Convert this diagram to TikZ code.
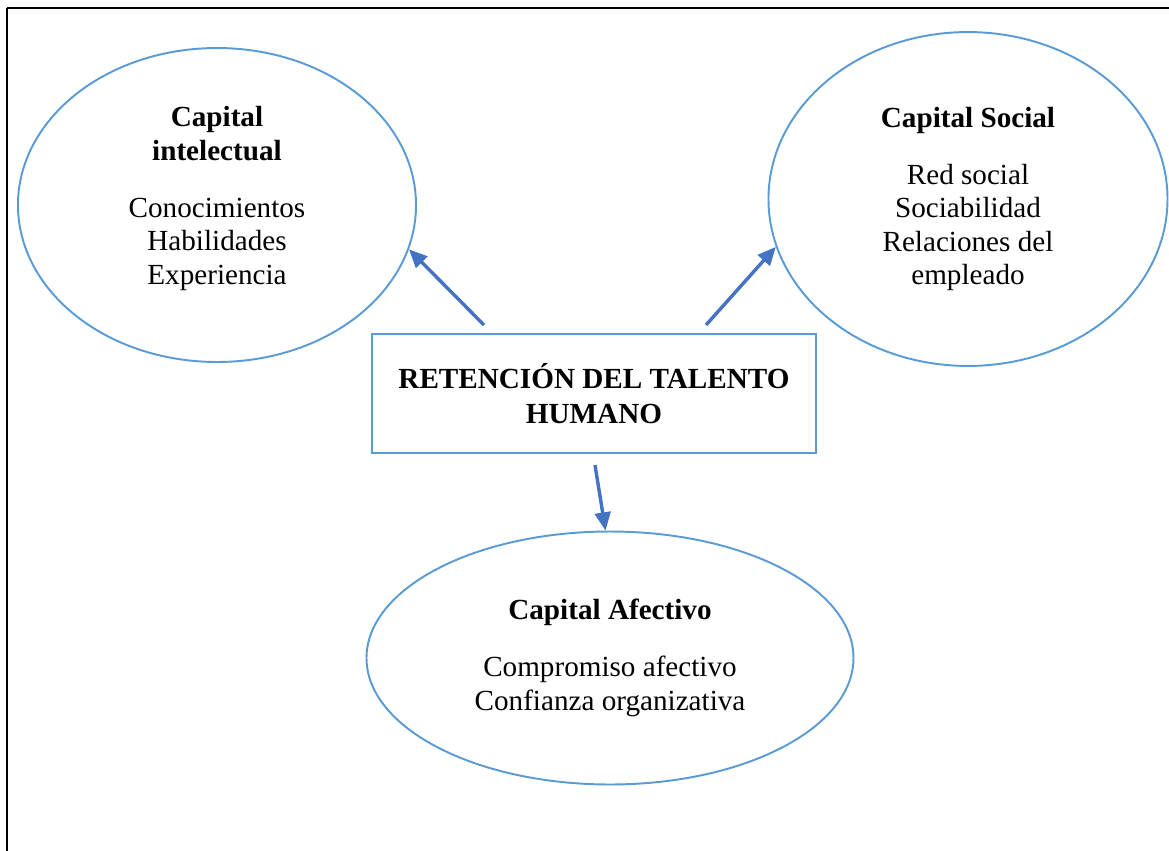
\documentclass[tikz,border=0pt]{standalone}
\usepackage{fontspec}
\setmainfont{Liberation Serif}
\usetikzlibrary{positioning}
\usetikzlibrary{shapes.geometric}
\usetikzlibrary{arrows.meta}
\definecolor{azulclaro}{HTML}{5B9BD5}
\definecolor{azulflecha}{HTML}{4472C4}
\tikzset{CapitalStyle/.style={ellipse,draw=azulclaro,line width=0.8pt,inner sep=0pt,align=center,font=\fontsize{12}{13.8}\selectfont}}
\tikzset{BoxStyle/.style={rectangle,draw=azulclaro,line width=0.8pt,align=center,font=\fontsize{12}{14.4}\selectfont\bfseries}}
\tikzset{FlechaStyle/.style={draw=azulflecha,line width=1.4pt,-{Triangle[length=7.5pt,width=6.5pt]}}}

\begin{document}
\begin{tikzpicture}[x=0.4115pt,y=-0.4115pt]
        \useasboundingbox (0,0) rectangle (1169,851);
        \draw[line width=0.6pt] (7,8) -- (1169,8);
        \draw[line width=0.6pt] (7,8) -- (7,851);
        \node[BoxStyle,minimum width=183pt,minimum height=49pt] (rth) at (594,393.5)
            {RETENCIÓN DEL TALENTO\\HUMANO};
        \node[CapitalStyle,minimum width=163.8pt,minimum height=129.2pt] (ci) at (217,205)
            {\textbf{Capital}\\\textbf{intelectual}\\[9.7pt]Conocimientos\\Habilidades\\Experiencia\\[-6pt]\mbox{}};
        \node[CapitalStyle,minimum width=164.2pt,minimum height=137.4pt] (cs) at (968,199)
            {\textbf{Capital Social}\\[9.7pt]Red social\\Sociabilidad\\Relaciones del\\empleado};
        \node[CapitalStyle,minimum width=200.4pt,minimum height=104.1pt] (ca) at (610,658)
            {\textbf{Capital Afectivo}\\[9.7pt]Compromiso afectivo\\Confianza organizativa};
        \coordinate (pi) at (484,325);
        \coordinate (ps) at (706,325);
        \coordinate (pa) at (595,465);
        \draw[FlechaStyle] (pi) -- (ci.-13);
        \draw[FlechaStyle] (ps) -- (cs.194);
        \draw[FlechaStyle] (pa) -- (ca.92);
\end{tikzpicture}
\end{document}
